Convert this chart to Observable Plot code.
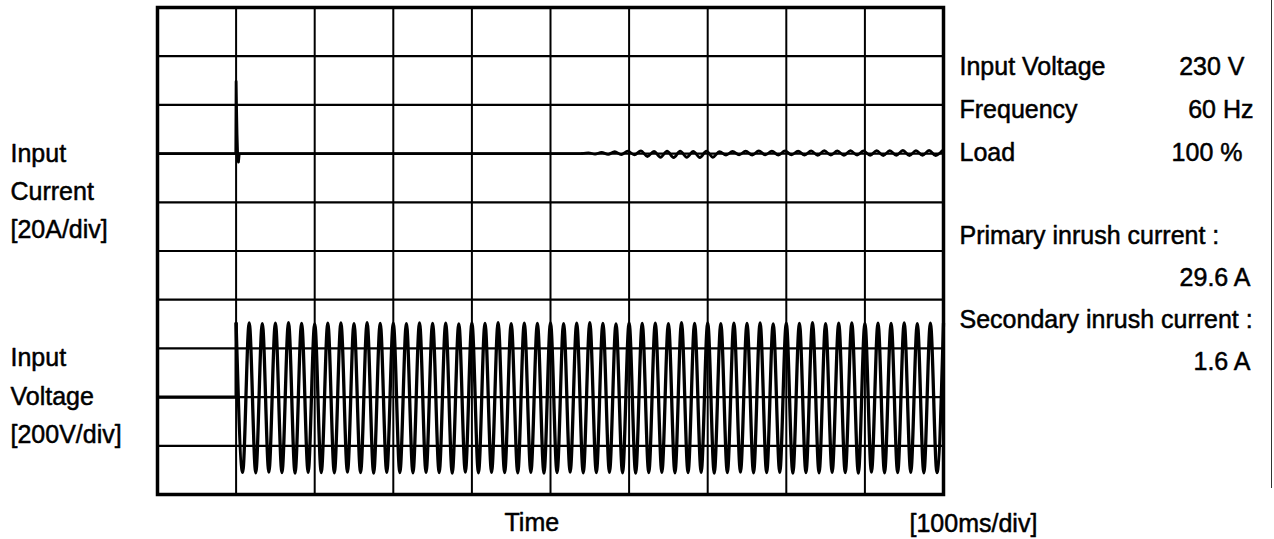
<!DOCTYPE html>
<html>
<head>
<meta charset="utf-8">
<script src="https://cdn.jsdelivr.net/npm/d3@7"></script>
<script src="https://cdn.jsdelivr.net/npm/@observablehq/plot@0.6"></script>
<style>
  html, body { margin: 0; padding: 0; background: #fff; overflow: hidden; }
  #wrap { position: relative; width: 1274px; height: 539px; }
  #edge { position: absolute; left: 1271px; top: 0; width: 0; height: 488px; border-left: 1.5px solid #333; }
</style>
</head>
<body>
<div id="wrap"><div id="chart"></div><div id="edge"></div></div>
<script>
// ---- Data ----
const timeGrid = [100, 200, 300, 400, 500, 600, 700, 800, 900];   // ms, 100 ms/div
const divGrid = [-4, -3, -2, -1, 0, 1, 2, 3, 4];                  // vertical divisions
const mainsHz = 60;                                               // Frequency 60 Hz
const switchOnMs = 100;                                           // AC switched on at 1 div
const currentZeroDiv = 2;                                         // current trace reference
const voltageZeroDiv = -3;                                        // voltage trace reference
const ampPerDiv = 20;                                             // 20 A/div
const voltPerDiv = 200;                                           // 200 V/div

// Input voltage: successive half-cycle peak values (V), from switch-on
const voltagePeaks = [
  303,-309,305,-311,302,-308,304,-310,306,-312,
  303,-309,301,-310,304,-311,305,-308,302,-310,
  306,-312,303,-309,304,-310,302,-311,305,-309,
  303,-310,304,-312,301,-308,305,-311,303,-309,
  306,-310,302,-311,304,-309,303,-312,305,-310,
  302,-308,304,-311,306,-310,303,-309,301,-311,
  305,-312,303,-310,304,-309,302,-311,306,-310,
  303,-309,305,-312,302,-310,304,-308,303,-311,
  305,-310,301,-309,304,-312,303,-310,306,-311,
  302,-309,304,-310,305,-312,303,-308,304,-311,
  303,-310,305,-309,302,-311,304,-310,303
];
// Pre-trigger voltage trace (ms, V)
const voltagePreT = [0, 100, 100];
const voltagePreV = [0, 0, 303];

// Input current: inrush spike (ms, A)
const currentT = [0, 99.6, 100, 100.5, 101.2, 102, 103, 104, 540];
const currentA = [0, 0, 29.6, 20, 8, -1, -3.5, 0, 0];
// Input current ripple: half-cycle peak values (A) from 540 ms
const rippleStartMs = 540;
const ripplePeaks = [
  0, 0.3, -0.2, 0.5, -0.3, 0.8, -0.4, 1.0, -0.5, 1.1,
  -1.2, 0.9, -1.5, 1.0, -1.6, 1.0, -1.5, 0.9, -1.6, 1.0, -1.5, 0.8,
  -0.6, 0.9, -0.5, 1.0, -0.6, 1.1, -0.5, 1.0, -0.6, 1.1, -0.5, 1.0,
  -0.6, 1.1, -0.7, 1.2, -0.6, 1.1, -0.7, 1.2, -0.6, 1.1, -0.7, 1.2,
  -0.8, 1.2, -0.7, 1.3, -0.8, 1.2, -0.7, 1.3, -0.8, 1.2
];

// Text
const leftLabels = ["Input", "Current", "[20A/div]", "Input", "Voltage", "[200V/div]"];
const infoLabels = ["Input Voltage", "Frequency", "Load"];
const infoValues = ["230 V", "60 Hz", "100 %"];
const inrushLabels = ["Primary inrush current :", "Secondary inrush current :"];
const inrushValues = ["29.6 A", "1.6 A"];
const xLabel = "Time";
const xUnit = "[100ms/div]";

// ---- Build tables ----
const halfPeriod = 1000 / (2 * mainsHz);
const voltage = voltagePeaks.map((v, i) => ({t: switchOnMs + i * halfPeriod, v}));
const voltagePre = voltagePreT.map((t, i) => ({t, v: voltagePreV[i]}));
const current = currentT.map((t, i) => ({t, a: currentA[i]}));
const ripple = ripplePeaks.map((a, i) => ({t: rippleStartMs + i * halfPeriod, a}));

const W = 1274, H = 539, ML = 157, MR = 331, MT = 7, MB = 45;
const FONT = "'Liberation Sans', Arial, Helvetica, sans-serif";

function label(text, px, py, anchor = "start") {
  return Plot.text([text], {
    text: d => d, frameAnchor: "top-left", dx: px - ML, dy: py - MT,
    textAnchor: anchor, lineAnchor: "middle", fontSize: 25,
    fill: "black", stroke: "black", strokeWidth: 0.5
  });
}

const vY = d => voltageZeroDiv + d.v / voltPerDiv;
const aY = d => currentZeroDiv + d.a / ampPerDiv;

const chart = Plot.plot({
  width: W, height: H,
  marginLeft: ML, marginRight: MR, marginTop: MT, marginBottom: MB,
  style: {fontFamily: FONT, background: "white", color: "black"},
  x: {domain: [0, 1000], axis: null},
  y: {domain: [-5, 5], axis: null},
  marks: [
    Plot.ruleX(timeGrid, {stroke: "black", strokeWidth: 2}),
    Plot.ruleY(divGrid, {stroke: "black", strokeWidth: 2.2}),
    Plot.line(voltagePre, {x: "t", y: vY, stroke: "black", strokeWidth: 3.2}),
    Plot.line(voltage, {x: "t", y: vY, curve: "monotone-x", stroke: "black", strokeWidth: 3.3}),
    Plot.line(current, {x: "t", y: aY, stroke: "black", strokeWidth: 2.8}),
    Plot.line(ripple, {x: "t", y: aY, curve: "monotone-x", stroke: "black", strokeWidth: 2.8}),
    Plot.frame({stroke: "black", strokeWidth: 3.5}),
    label(leftLabels[0], 10, 153),
    label(leftLabels[1], 10, 191),
    label(leftLabels[2], 10, 229),
    label(leftLabels[3], 10, 357),
    label(leftLabels[4], 10, 396),
    label(leftLabels[5], 10, 434),
    label(infoLabels[0], 959, 66),
    label(infoLabels[1], 959, 109),
    label(infoLabels[2], 959, 152),
    label(infoValues[0], 1244, 66, "end"),
    label(infoValues[1], 1253, 109, "end"),
    label(infoValues[2], 1242, 152, "end"),
    label(inrushLabels[0], 959, 235),
    label(inrushValues[0], 1250, 277, "end"),
    label(inrushLabels[1], 959, 319),
    label(inrushValues[1], 1250, 361, "end"),
    label(xLabel, 504, 522),
    label(xUnit, 909, 523)
  ]
});
document.getElementById("chart").appendChild(chart);
</script>
</body>
</html>
